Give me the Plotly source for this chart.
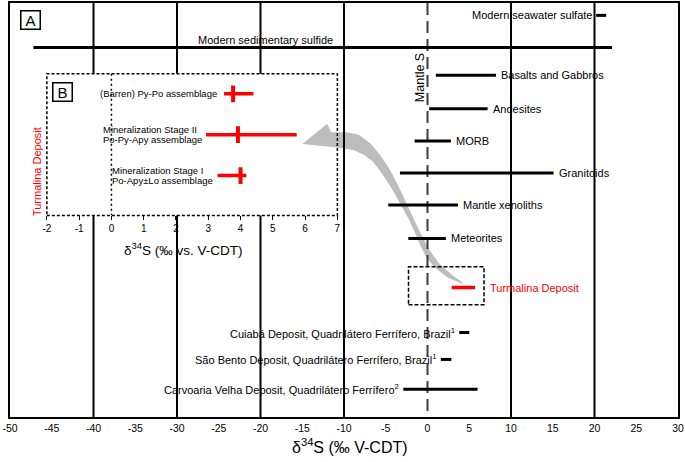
import plotly.graph_objects as go

# ---------------- data ----------------
main_labels = [
    "Modern seawater sulfate",
    "Modern sedimentary sulfide",
    "Basalts and Gabbros",
    "Andesites",
    "MORB",
    "Granitoids",
    "Mantle xenoliths",
    "Meteorites",
    "Cuiabá Deposit, Quadrilátero Ferrífero, Brazil<sup>1</sup>",
    "São Bento Deposit, Quadrilátero Ferrífero, Brazil<sup>1</sup>",
    "Carvoaria Velha Deposit, Quadrilátero Ferrífero<sup>2</sup>",
]
main_min = [20.2, -47.2, 1.0, 0.2, -1.55, -3.3, -4.7, -2.3, 3.8, 1.6, -2.9]
main_max = [21.4, 22.1, 8.2, 7.2, 2.8, 15.1, 3.65, 2.2, 5.0, 2.85, 6.0]

turmalina_label = "Turmalina Deposit"
turmalina_min = 2.9
turmalina_max = 5.7

ref_lines = [-40, -30, -20, -10, 10, 20]
mantle_s = 0
x_ticks = list(range(-50, 31, 5))
x_tick_text = [str(v) for v in x_ticks]

inset_line1 = ["(Barren) Py-Po assemblage", "Mineralization Stage II", "Mineralization Stage I"]
inset_line2 = ["", "Po-Py-Apy assemblage", "Po-Apy±Lo assemblage"]
inset_min = [3.49, 2.93, 3.29]
inset_max = [4.40, 5.74, 4.18]
inset_mean = [3.77, 3.92, 4.00]
inset_ticks = list(range(-2, 8))
inset_tick_text = [str(v) for v in inset_ticks]

# ---------------- layout constants (pixels) ----------------
W, H = 685, 462
L, R, T, B = 10, 684, 2, 417           # main plot area
main_row_y = [14.4, 46.5, 74.5, 108, 140.3, 172.5, 204.4, 238, 332.3, 359.3, 389.3]
label_side = ["left", "above", "right", "right", "right", "right", "right", "right",
              "left", "left", "left"]
turm_row_y = 287.2
IN_L, IN_R, IN_T, IN_B = 47.2, 340.3, 73, 215   # inset box
inset_row_y = [93, 134, 175]

FONT = "Liberation Sans, Arial, sans-serif"


def px(x):
    return (x - L) / (R - L)


def py(y):
    return (B - y) / (B - T)


def xpix(v):
    return L + (v + 50) / 80 * (R - L)


fig = go.Figure()

# reference vertical lines (broken where the inset sits)
lx, ly = [], []
for v in ref_lines:
    xp = xpix(v)
    if IN_L < xp < IN_R:
        lx += [v, v, None, v, v, None]
        ly += [T, IN_T, None, IN_B, B, None]
    else:
        lx += [v, v, None]
        ly += [T, B, None]
fig.add_trace(go.Scatter(x=lx, y=ly, mode="lines", line=dict(color="black", width=2),
                         hoverinfo="skip", showlegend=False))

# mantle S dashed line
fig.add_trace(go.Scatter(x=[mantle_s, mantle_s], y=[T, B], mode="lines",
                         line=dict(color="#3c3c3c", width=2, dash="12px,6px"),
                         hoverinfo="skip", showlegend=False))

# black range bars
bx, by = [], []
for a, b, yy in zip(main_min, main_max, main_row_y):
    bx += [a, b, None]
    by += [yy, yy, None]
fig.add_trace(go.Scatter(x=bx, y=by, mode="lines", line=dict(color="black", width=3),
                         hoverinfo="skip", showlegend=False))

# Turmalina red bar
fig.add_trace(go.Scatter(x=[turmalina_min, turmalina_max], y=[turm_row_y, turm_row_y],
                         mode="lines", line=dict(color="#ff0000", width=3.5),
                         hoverinfo="skip", showlegend=False))

# ---------------- inset ----------------
ix, iy = [], []
for a, b, yy in zip(inset_min, inset_max, inset_row_y):
    ix += [a, b, None]
    iy += [yy, yy, None]
fig.add_trace(go.Scatter(x=ix, y=iy, mode="lines", line=dict(color="#ff0000", width=3.5),
                         xaxis="x2", yaxis="y2", hoverinfo="skip", showlegend=False))
fig.add_trace(go.Scatter(x=inset_mean, y=inset_row_y, mode="markers",
                         marker=dict(symbol="line-ns", size=12,
                                     line=dict(color="#ff0000", width=4)),
                         xaxis="x2", yaxis="y2", hoverinfo="skip", showlegend=False))
fig.add_trace(go.Scatter(x=[0, 0], y=[IN_T, IN_B], mode="lines",
                         line=dict(color="black", width=1.5, dash="2px,3px"),
                         xaxis="x2", yaxis="y2", hoverinfo="skip", showlegend=False))

# ---------------- annotations ----------------
ann = []
for lab, a, b, yy, side in zip(main_labels, main_min, main_max, main_row_y, label_side):
    if side == "right":
        ann.append(dict(x=b, y=yy, xref="x", yref="y", text=lab, xanchor="left",
                        yanchor="middle", xshift=3, showarrow=False,
                        font=dict(size=11, family=FONT, color="black")))
    elif side == "left":
        ann.append(dict(x=a, y=yy, xref="x", yref="y", text=lab, xanchor="right",
                        yanchor="middle", xshift=-2, showarrow=False,
                        font=dict(size=11, family=FONT, color="black")))
    else:
        ann.append(dict(x=px(268), y=yy, xref="paper", yref="y", text=lab,
                        xanchor="center", yanchor="middle", yshift=7, showarrow=False,
                        font=dict(size=11, family=FONT, color="black")))

ann.append(dict(x=turmalina_max, y=turm_row_y, xref="x", yref="y", text=turmalina_label,
                xanchor="left", yanchor="middle", xshift=13, showarrow=False,
                font=dict(size=11, family=FONT, color="#ff0000")))

ann.append(dict(x=px(424), y=py(77), xref="paper", yref="paper", text="Mantle S",
                textangle=-90, showarrow=False, xanchor="center", yanchor="middle",
                font=dict(size=12.5, family=FONT, color="black")))

# inset labels
ann.append(dict(x=px(221), y=py(inset_row_y[0]), xref="paper", yref="paper",
                text=inset_line1[0], xanchor="right", yanchor="middle", showarrow=False,
                font=dict(size=9.5, family=FONT, color="black")))
for i, x0 in [(1, 102), (2, 110.5)]:
    ann.append(dict(x=px(x0), y=py(inset_row_y[i] - 5), xref="paper", yref="paper",
                    text=inset_line1[i], xanchor="left", yanchor="middle", showarrow=False,
                    font=dict(size=9.5, family=FONT, color="black")))
    ann.append(dict(x=px(x0), y=py(inset_row_y[i] + 5), xref="paper", yref="paper",
                    text=inset_line2[i], xanchor="left", yanchor="middle", showarrow=False,
                    font=dict(size=9.5, family=FONT, color="black")))

ann.append(dict(x=px(36.7), y=py(171), xref="paper", yref="paper", text=turmalina_label,
                textangle=-90, showarrow=False, xanchor="center", yanchor="middle",
                font=dict(size=11, family=FONT, color="#ff0000")))

# axis titles
ann.append(dict(x=px(353), y=py(446), xref="paper", yref="paper",
                text="δ<sup>34</sup>S (‰ V-CDT)", showarrow=False,
                xanchor="center", yanchor="middle",
                font=dict(size=16, family=FONT, color="black")))
ann.append(dict(x=px(185), y=py(249), xref="paper", yref="paper",
                text="δ<sup>34</sup>S (‰ vs. V-CDT)", showarrow=False,
                xanchor="center", yanchor="middle",
                font=dict(size=13.5, family=FONT, color="black")))

# panel letters
for letter, cx, cy in [("A", 31, 19.5), ("B", 63.3, 91.2)]:
    ann.append(dict(x=px(cx), y=py(cy), xref="paper", yref="paper", text=letter,
                    showarrow=False, xanchor="center", yanchor="middle",
                    width=16, height=15, borderpad=1, bordercolor="black",
                    borderwidth=1.5, bgcolor="white",
                    font=dict(size=15, family=FONT, color="black")))

# ---------------- shapes ----------------
shapes = []
# inset dotted frame
shapes.append(dict(type="rect", xref="paper", yref="paper",
                   x0=px(IN_L), x1=px(IN_R), y0=py(IN_B), y1=py(IN_T),
                   line=dict(color="black", width=1.5, dash="3px,2px"),
                   fillcolor="rgba(0,0,0,0)", layer="above"))
# Turmalina dashed highlight box
shapes.append(dict(type="rect", xref="paper", yref="paper",
                   x0=px(412.1), x1=px(488.3), y0=py(304.4), y1=py(266.4),
                   line=dict(color="black", width=1.5, dash="4px,2px"),
                   fillcolor="rgba(0,0,0,0)", layer="above"))

# grey curved arrow (pixel outline -> paper path)
arrow_pts = [
    (305, 143.3), (330, 123), (334, 131.5), (350, 131.5), (362, 134), (374, 143),
    (384, 155), (392, 167), (399, 180), (406, 194), (412, 207), (419, 222),
    (426, 236), (433, 249), (442, 262), (455, 274), (467, 282.5),
    (467, 283.6), (452, 277.5), (440, 268.5), (430, 257), (424, 245), (419, 233),
    (412, 218), (404, 204), (397, 191), (390, 180), (383, 170), (376, 161),
    (367, 154), (357, 149.5), (346, 147.5), (338, 146.7),
]
path = "M " + " L ".join(f"{px(x):.5f},{py(y):.5f}" for x, y in arrow_pts) + " Z"
shapes.append(dict(type="path", xref="paper", yref="paper", path=path,
                   fillcolor="#bdbdbd", line=dict(width=0), layer="below"))

fig.update_layout(
    width=W, height=H,
    margin=dict(l=L, r=W - R, t=T, b=H - B),
    paper_bgcolor="white", plot_bgcolor="rgba(0,0,0,0)",
    font=dict(family=FONT, color="black"),
    showlegend=False,
    annotations=ann, shapes=shapes,
    xaxis=dict(range=[-50, 30], tickvals=x_ticks, ticktext=x_tick_text, ticks="",
               showgrid=False, zeroline=False, showline=True, mirror=True, linewidth=2,
               linecolor="black", ticklabeloverflow="allow",
               tickfont=dict(family=FONT, size=10.5, color="black"), fixedrange=True),
    yaxis=dict(range=[B, T], showticklabels=False, ticks="", showgrid=False,
               zeroline=False, showline=True, mirror=True, linewidth=2,
               linecolor="black", fixedrange=True),
    xaxis2=dict(domain=[px(IN_L), px(IN_R)], anchor="y2", range=[-2, 7],
                tickvals=inset_ticks, ticktext=inset_tick_text, ticks="outside",
                ticklen=4, tickwidth=1, tickcolor="black", showgrid=False,
                zeroline=False, showline=False,
                tickfont=dict(size=10, family=FONT, color="black"), fixedrange=True),
    yaxis2=dict(domain=[py(IN_B), py(IN_T)], anchor="x2", range=[IN_B, IN_T],
                visible=False, fixedrange=True),
)

fig.write_html(
    "out.html",
    config={"displayModeBar": False},
    post_script="document.body.style.margin='0';document.body.style.overflow='hidden';",
)
